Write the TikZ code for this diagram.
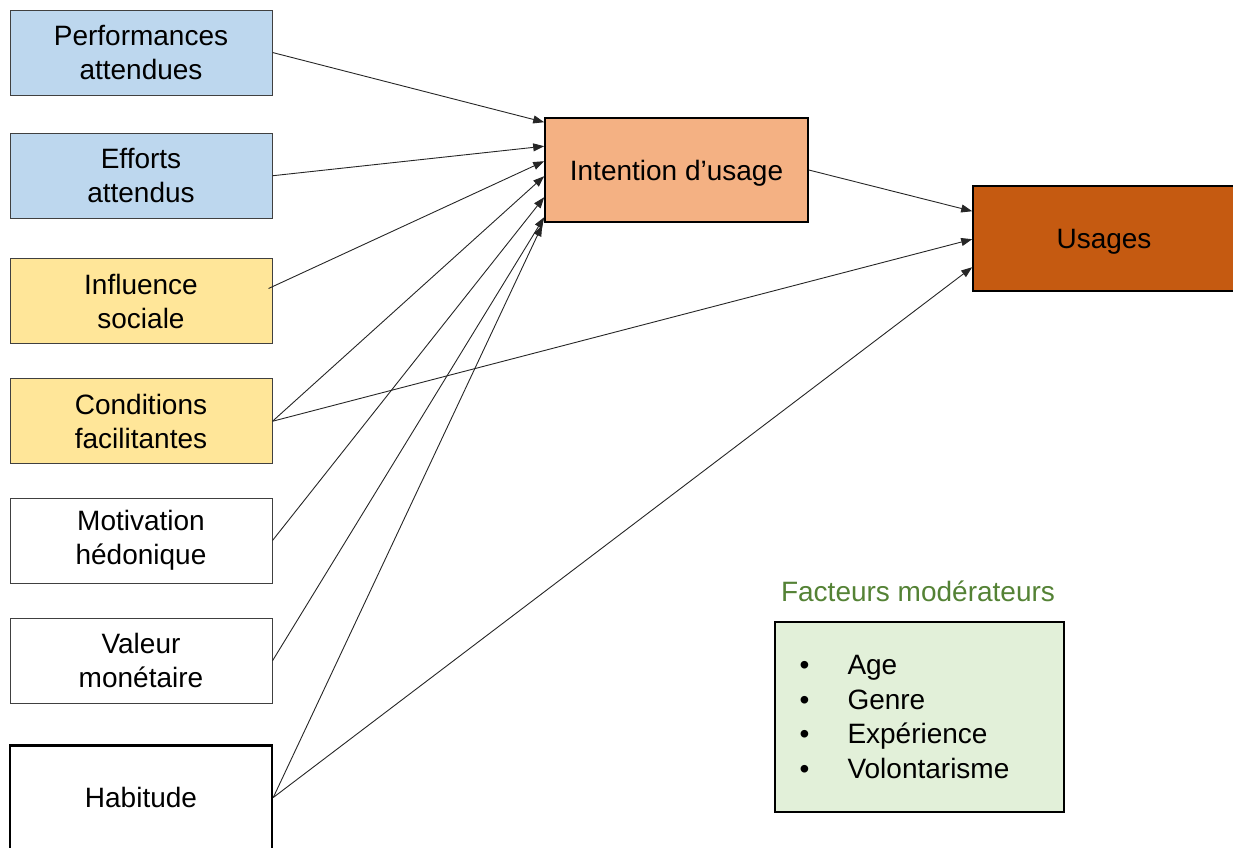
\documentclass[tikz,border=0pt]{standalone}
\usepackage{fontspec}
\setmainfont{Liberation Sans}
\usepackage{xcolor}
\usepackage{tikz}
\usetikzlibrary{positioning, arrows.meta}

\definecolor{perfblue}{HTML}{BDD7EE}
\definecolor{condyellow}{HTML}{FFE699}
\definecolor{intentorange}{HTML}{F4B183}
\definecolor{usagebrown}{HTML}{C55A11}
\definecolor{modgreen}{HTML}{E2F0D9}
\definecolor{titlegreen}{HTML}{548235}

\begin{document}
\begin{tikzpicture}[
				x=1pt, y=-1pt,
				box/.style={
					rectangle, 
					draw=black!75, 
					line width=1pt,
					align=center, 
					minimum height=85pt, 
					minimum width=262pt, 
					inner sep=0pt,
					font=\fontsize{28}{34}\selectfont
				},
				arrow/.style={-{Triangle[length=11pt,width=8pt]}, draw=black!85, line width=0.9pt}
				]
				\useasboundingbox (0,0) rectangle (1233,847);
				
				% --- 1. Left column (determinants) ---
				\node[box, fill=perfblue] (perf) at (141,52.5) {Performances\\attendues};
				\node[box, fill=perfblue, below=37.25pt of perf] (effort) {Efforts\\attendus};
				\node[box, fill=condyellow, below=39.25pt of effort] (infl) {Influence\\sociale};
				\node[box, fill=condyellow, below=34.25pt of infl] (cond) {Conditions\\facilitantes};
				\node[box, fill=white, below=33.25pt of cond] (motiv) {Motivation\\hédonique};
				\node[box, fill=white, below=34.25pt of motiv] (valeur) {Valeur\\monétaire};
				
				% Habitude runs off the bottom edge
				\node[box, fill=white, below=40.5pt of valeur, minimum height=104pt, draw=black, line width=2.5pt] (habit) {Habitude};
				
				% --- 2. Intention and usage ---
				\node[box, fill=intentorange, draw=black, line width=1.6pt, minimum width=263pt, minimum height=104pt, text height=26pt] (intent) at (676.5,170) {Intention d’usage};
				\node[box, fill=usagebrown, draw=black, line width=1.6pt, minimum height=105pt, text height=26pt] (usage) at (1104,238.5) {Usages};
				
				% --- 3. Moderators ---
				\node[font=\fontsize{28}{34}\selectfont, text=titlegreen] (modtitle) at (918,591) {Facteurs modérateurs};
				\node[box, fill=modgreen, draw=black, line width=1.6pt, minimum width=289pt, minimum height=190pt, text width=240pt, align=left, font=\fontsize{28}{34.5}\selectfont] (moder) at (919.5,717) {%
					\makebox[48pt][l]{\textbullet}Age\\
					\makebox[48pt][l]{\textbullet}Genre\\
					\makebox[48pt][l]{\textbullet}Expérience\\
					\makebox[48pt][l]{\textbullet}Volontarisme};
				
				% Arrows into the intention
				\draw[arrow] (perf.east) -- ([yshift=-5pt]intent.north west);
				\draw[arrow] (effort.east) -- ([yshift=-29pt]intent.north west);
				\draw[arrow] ([xshift=-4pt,yshift=12.5pt]infl.east) -- ([yshift=-44pt]intent.north west);
				\draw[arrow] (cond.east) -- ([yshift=-59pt]intent.north west);
				\draw[arrow] (motiv.east) -- ([yshift=-80pt]intent.north west);
				\draw[arrow] (valeur.east) -- ([yshift=-100pt]intent.north west);
				\draw[arrow] (habit.east) -- ([xshift=-2pt,yshift=-108pt]intent.north west);
				
				% Arrows into the usage
				\draw[arrow] (intent.east) -- ([yshift=-26pt]usage.north west);
				\draw[arrow] (cond.east) -- ([yshift=-54pt]usage.north west);
				\draw[arrow] (habit.east) -- ([yshift=-82pt]usage.north west);
				
			\end{tikzpicture}
\end{document}
